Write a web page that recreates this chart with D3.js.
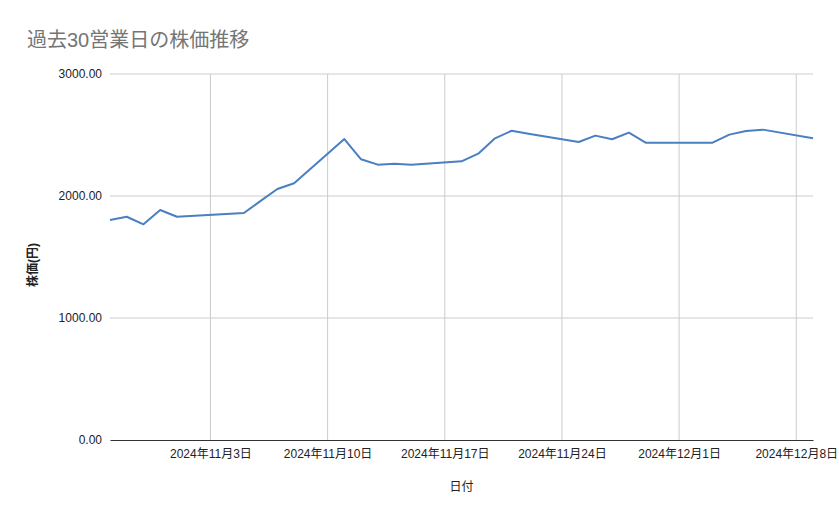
<!DOCTYPE html>
<html>
<head>
<meta charset="utf-8">
<script src="https://cdn.jsdelivr.net/npm/d3@7"></script>
<style>
  body { margin: 0; background: #fff; }
  text { font-family: "Liberation Sans", Arial, "Noto Sans CJK JP", sans-serif; }
</style>
</head>
<body>
<div id="chart"></div>
<script>
// 営業日 (2024-10-28 .. 2024-12-09, 11/4 は振替休日)
const dates = [
  '2024-10-28', '2024-10-29', '2024-10-30', '2024-10-31', '2024-11-01',
  '2024-11-05', '2024-11-06', '2024-11-07', '2024-11-08',
  '2024-11-11', '2024-11-12', '2024-11-13', '2024-11-14', '2024-11-15',
  '2024-11-18', '2024-11-19', '2024-11-20', '2024-11-21', '2024-11-22',
  '2024-11-25', '2024-11-26', '2024-11-27', '2024-11-28', '2024-11-29',
  '2024-12-02', '2024-12-03', '2024-12-04', '2024-12-05', '2024-12-06',
  '2024-12-09'
];
const prices = [
  1803, 1830, 1768, 1885, 1830,
  1861, 1960, 2057, 2104,
  2467, 2301, 2257, 2265, 2257,
  2284, 2347, 2473, 2535, 2510,
  2443, 2495, 2465, 2519, 2437,
  2437, 2437, 2503, 2533, 2544,
  2473
];
const xTicks = ['2024-11-03', '2024-11-10', '2024-11-17', '2024-11-24', '2024-12-01', '2024-12-08'];
const yTicks = [0, 1000, 2000, 3000];

const width = 839;
const height = 519;
const margin = { top: 74, right: 26, bottom: 79, left: 110 };

const parse = d3.timeParse('%Y-%m-%d');
const data = dates.map((d, i) => ({ date: parse(d), value: prices[i] }));

const xScale = d3.scaleTime()
  .domain([parse('2024-10-28'), parse('2024-12-09')])
  .range([margin.left, width - margin.right]);

const yScale = d3.scaleLinear()
  .domain([0, 3000])
  .range([height - margin.bottom, margin.top]);

const svg = d3.select('#chart')
  .append('svg')
  .attr('width', width)
  .attr('height', height);

// 横グリッド
svg.append('g')
  .selectAll('line')
  .data(yTicks.filter(d => d > 0))
  .enter()
  .append('line')
  .attr('x1', margin.left)
  .attr('x2', width - margin.right)
  .attr('y1', d => yScale(d))
  .attr('y2', d => yScale(d))
  .attr('stroke', '#cccccc')
  .attr('stroke-width', 1);

// 縦グリッド
svg.append('g')
  .selectAll('line')
  .data(xTicks.map(parse))
  .enter()
  .append('line')
  .attr('x1', d => xScale(d))
  .attr('x2', d => xScale(d))
  .attr('y1', margin.top)
  .attr('y2', height - margin.bottom)
  .attr('stroke', '#cccccc')
  .attr('stroke-width', 1);

// y軸
const yAxis = d3.axisLeft(yScale)
  .tickValues(yTicks)
  .tickFormat(d3.format('.2f'))
  .tickSize(0)
  .tickPadding(8);

svg.append('g')
  .attr('transform', 'translate(' + margin.left + ', 0)')
  .call(yAxis)
  .call(g => g.select('.domain').remove())
  .call(g => g.selectAll('text').attr('font-size', 12).attr('fill', '#222'));

// x軸
const fmt = d => d.getFullYear() + '年' + (d.getMonth() + 1) + '月' + d.getDate() + '日';
const xAxis = d3.axisBottom(xScale)
  .tickValues(xTicks.map(parse))
  .tickFormat(fmt)
  .tickSize(0)
  .tickPadding(9);

svg.append('g')
  .attr('transform', 'translate(0, ' + (height - margin.bottom) + ')')
  .call(xAxis)
  .call(g => g.select('.domain').attr('stroke', '#333').attr('stroke-width', 1))
  .call(g => g.selectAll('text').attr('font-size', 12).attr('fill', '#222'));

// 折れ線
const line = d3.line()
  .x(d => xScale(d.date))
  .y(d => yScale(d.value));

svg.append('path')
  .datum(data)
  .attr('fill', 'none')
  .attr('stroke', '#4a7fc1')
  .attr('stroke-width', 2)
  .attr('stroke-linejoin', 'round')
  .attr('d', line);

// タイトル
svg.append('text')
  .attr('x', 27)
  .attr('y', 47)
  .attr('font-size', 20)
  .attr('fill', '#757575')
  .text('過去30営業日の株価推移');

// 軸ラベル
svg.append('text')
  .attr('transform', 'translate(37, 265) rotate(-90)')
  .attr('text-anchor', 'middle')
  .attr('font-size', 12)
  .attr('font-weight', 'bold')
  .attr('fill', '#222')
  .text('株価(円)');

svg.append('text')
  .attr('x', (margin.left + width - margin.right) / 2)
  .attr('y', 491)
  .attr('text-anchor', 'middle')
  .attr('font-size', 12)
  .attr('fill', '#222')
  .text('日付');
</script>
</body>
</html>
